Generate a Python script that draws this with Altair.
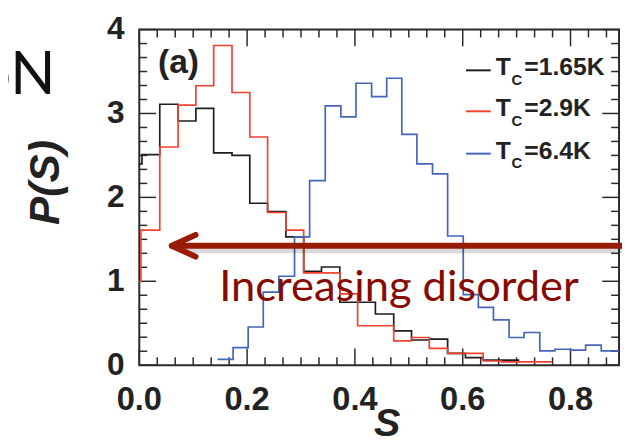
import altair as alt
import pandas as pd

# ---------------- data ----------------
series_names = ["Tc=1.65K", "Tc=2.9K", "Tc=6.4K"]
series_colors = ["#1e1e1e", "#f2412f", "#4565bd"]

black_s = [0.0, 0.005, 0.038, 0.072, 0.105, 0.138, 0.172, 0.205, 0.238, 0.272,
           0.305, 0.338, 0.372, 0.405, 0.438, 0.472, 0.505, 0.538, 0.572, 0.605,
           0.638, 0.672, 0.705]
black_p = [2.40, 2.51, 3.11, 2.91, 3.06, 2.53, 2.50, 1.93, 1.83, 1.53,
           1.12, 1.17, 0.75, 0.75, 0.61, 0.41, 0.30, 0.31, 0.14, 0.09,
           0.06, 0.06, 0.06]

red_s = [0.0, 0.003, 0.038, 0.072, 0.105, 0.138, 0.172, 0.205, 0.238, 0.272,
         0.305, 0.338, 0.372, 0.405, 0.438, 0.472, 0.505, 0.538, 0.572, 0.605,
         0.638, 0.672, 0.705, 0.738, 0.766]
red_p = [1.00, 1.61, 2.60, 3.10, 3.33, 3.81, 3.25, 2.72, 1.82, 1.61,
         1.10, 1.10, 0.85, 0.47, 0.47, 0.29, 0.33, 0.20, 0.14, 0.14,
         0.05, 0.04, 0.04, 0.04, 0.04]

blue_s = [0.145, 0.174, 0.202, 0.230, 0.259, 0.288, 0.316, 0.345, 0.374, 0.402,
          0.431, 0.459, 0.487, 0.515, 0.544, 0.572, 0.601, 0.629, 0.657, 0.686,
          0.714, 0.743, 0.771, 0.800, 0.828, 0.857, 0.89]
blue_p = [0.07, 0.21, 0.455, 0.87, 1.06, 1.53, 2.20, 3.09, 2.96, 3.36,
          3.20, 3.42, 2.75, 2.40, 2.28, 1.54, 0.84, 0.69, 0.54, 0.33,
          0.39, 0.17, 0.19, 0.18, 0.24, 0.17, 0.17]

x_major = [0.0, 0.2, 0.4, 0.6, 0.8]
x_major_labels = ["0.0", "0.2", "0.4", "0.6", "0.8"]
x_minor = [k / 30 for k in range(1, 27) if k % 6 != 0]
y_major = [0, 1, 2, 3, 4]
y_major_labels = ["0", "1", "2", "3", "4"]
y_minor = [k / 6 for k in range(1, 24) if k % 6 != 0]

legend_labels = ["=1.65K", "=2.9K", "=6.4K"]

# ---------------- build ----------------
rows = []
for name, xs, ps in zip(series_names, [black_s, red_s, blue_s], [black_p, red_p, blue_p]):
    for i, (x, p) in enumerate(zip(xs, ps)):
        rows.append({"series": name, "s": x, "p": p, "i": i})
df = pd.DataFrame(rows)

W, H = 486, 340
XMAX = 0.89
FRAME = "#2a2a2a"
INK = "#222222"
BOLD = "Liberation Sans"

xscale = alt.Scale(domain=[0, XMAX], nice=False, zero=False)
yscale = alt.Scale(domain=[0, 4], nice=False)

lines = alt.Chart(df).mark_line(interpolate="step-after", strokeWidth=1.7).encode(
    x=alt.X("s:Q", scale=xscale, axis=None),
    y=alt.Y("p:Q", scale=yscale, axis=None),
    color=alt.Color("series:N", scale=alt.Scale(domain=series_names, range=series_colors),
                    legend=None),
    order=alt.Order("i:Q"),
)


def xticks(vals, length):
    d = pd.DataFrame({"t": vals})
    base = alt.Chart(d).mark_rule(color=FRAME, strokeWidth=1.5)
    bot = base.encode(x=alt.X("t:Q", scale=xscale, axis=None), y=alt.value(H), y2=alt.value(H - length))
    top = base.encode(x=alt.X("t:Q", scale=xscale, axis=None), y=alt.value(0), y2=alt.value(length))
    return [bot, top]


def yticks(vals, length):
    d = pd.DataFrame({"t": vals})
    base = alt.Chart(d).mark_rule(color=FRAME, strokeWidth=1.5)
    left = base.encode(y=alt.Y("t:Q", scale=yscale, axis=None), x=alt.value(0), x2=alt.value(length))
    right = base.encode(y=alt.Y("t:Q", scale=yscale, axis=None), x=alt.value(W), x2=alt.value(W - length))
    return [left, right]


ticks = xticks(x_major, 17) + xticks(x_minor, 8) + yticks(y_major, 17) + yticks(y_minor, 8)

# tick labels placed through the scales
xlab = alt.Chart(pd.DataFrame({"t": x_major, "lab": x_major_labels})).mark_text(
    font=BOLD, fontWeight="bold", fontSize=33, baseline="alphabetic", align="center", color=INK
).encode(x=alt.X("t:Q", scale=xscale, axis=None), y=alt.value(H + 45), text="lab:N")

ylab = alt.Chart(pd.DataFrame({"t": y_major, "lab": y_major_labels})).mark_text(
    font=BOLD, fontWeight="bold", fontSize=32, baseline="alphabetic", align="right", color=INK, dy=10
).encode(y=alt.Y("t:Q", scale=yscale, axis=None), x=alt.value(-15), text="lab:N")

one = alt.Data(values=[{"a": 1}])


def txt(text, x, y, **kw):
    return alt.Chart(one).mark_text(text=text, **kw).encode(x=alt.value(x), y=alt.value(y))


def seg(x1, y1, x2, y2, **kw):
    return alt.Chart(one).mark_rule(**kw).encode(
        x=alt.value(x1), y=alt.value(y1), x2=alt.value(x2), y2=alt.value(y2))


# legend (manual, to get the subscript)
legend = []
row_y = [41.3, 82.8, 125.7]
for k in range(3):
    legend.append(seg(331, row_y[k], 356, row_y[k], color=series_colors[k], strokeWidth=2))
    base_y = row_y[k] + 5
    legend.append(txt("T", 361, base_y, font=BOLD, fontWeight="bold", fontSize=25,
                      align="left", baseline="alphabetic", color=INK))
    legend.append(txt("C", 377, base_y + 10, font=BOLD, fontWeight="bold", fontSize=15,
                      align="left", baseline="alphabetic", color=INK))
    legend.append(txt(legend_labels[k], 390, base_y, font=BOLD, fontWeight="bold", fontSize=25,
                      align="left", baseline="alphabetic", color=INK))

panel = txt("(a)", 19, 44, font=BOLD, fontWeight="bold", fontSize=34, align="left",
            baseline="alphabetic", color=INK)

ytitle = txt("P(S)", -94, 155, font=BOLD, fontWeight="bold", fontStyle="italic", fontSize=43,
             angle=270, align="center", baseline="middle", color=INK)
xtitle = txt("S", 251, 412, font=BOLD, fontWeight="bold", fontStyle="italic", fontSize=40,
             align="center", baseline="alphabetic", color=INK)

slide = txt("oN", -85, 65, font="Lato", fontSize=60, align="right",
            baseline="alphabetic", color="#111")

ARROW = "#981b08"
arrow = [
    seg(40, 223, 495, 223, color="#000000", opacity=0.15, strokeWidth=7),
    seg(34, 219, 495, 219, color=ARROW, strokeWidth=6),
    seg(33, 219, 57, 208, color=ARROW, strokeWidth=6, strokeCap="round"),
    seg(33, 219, 57, 230, color=ARROW, strokeWidth=6, strokeCap="round"),
]
label = txt("Increasing disorder", 81, 275, font="Lato", fontSize=44, align="left",
            baseline="alphabetic", color="#860a00")

chart = alt.layer(*ticks, lines, xlab, ylab, *legend, panel, ytitle, xtitle, slide, *arrow, label).properties(
    width=W, height=H,
    autosize=alt.AutoSizeParams(type="none"),
    padding={"left": 133, "top": 19, "right": 3, "bottom": 78},
).configure_view(stroke=FRAME, strokeWidth=2)

chart.save("out.html", embed_options={"renderer": "svg", "actions": False})
